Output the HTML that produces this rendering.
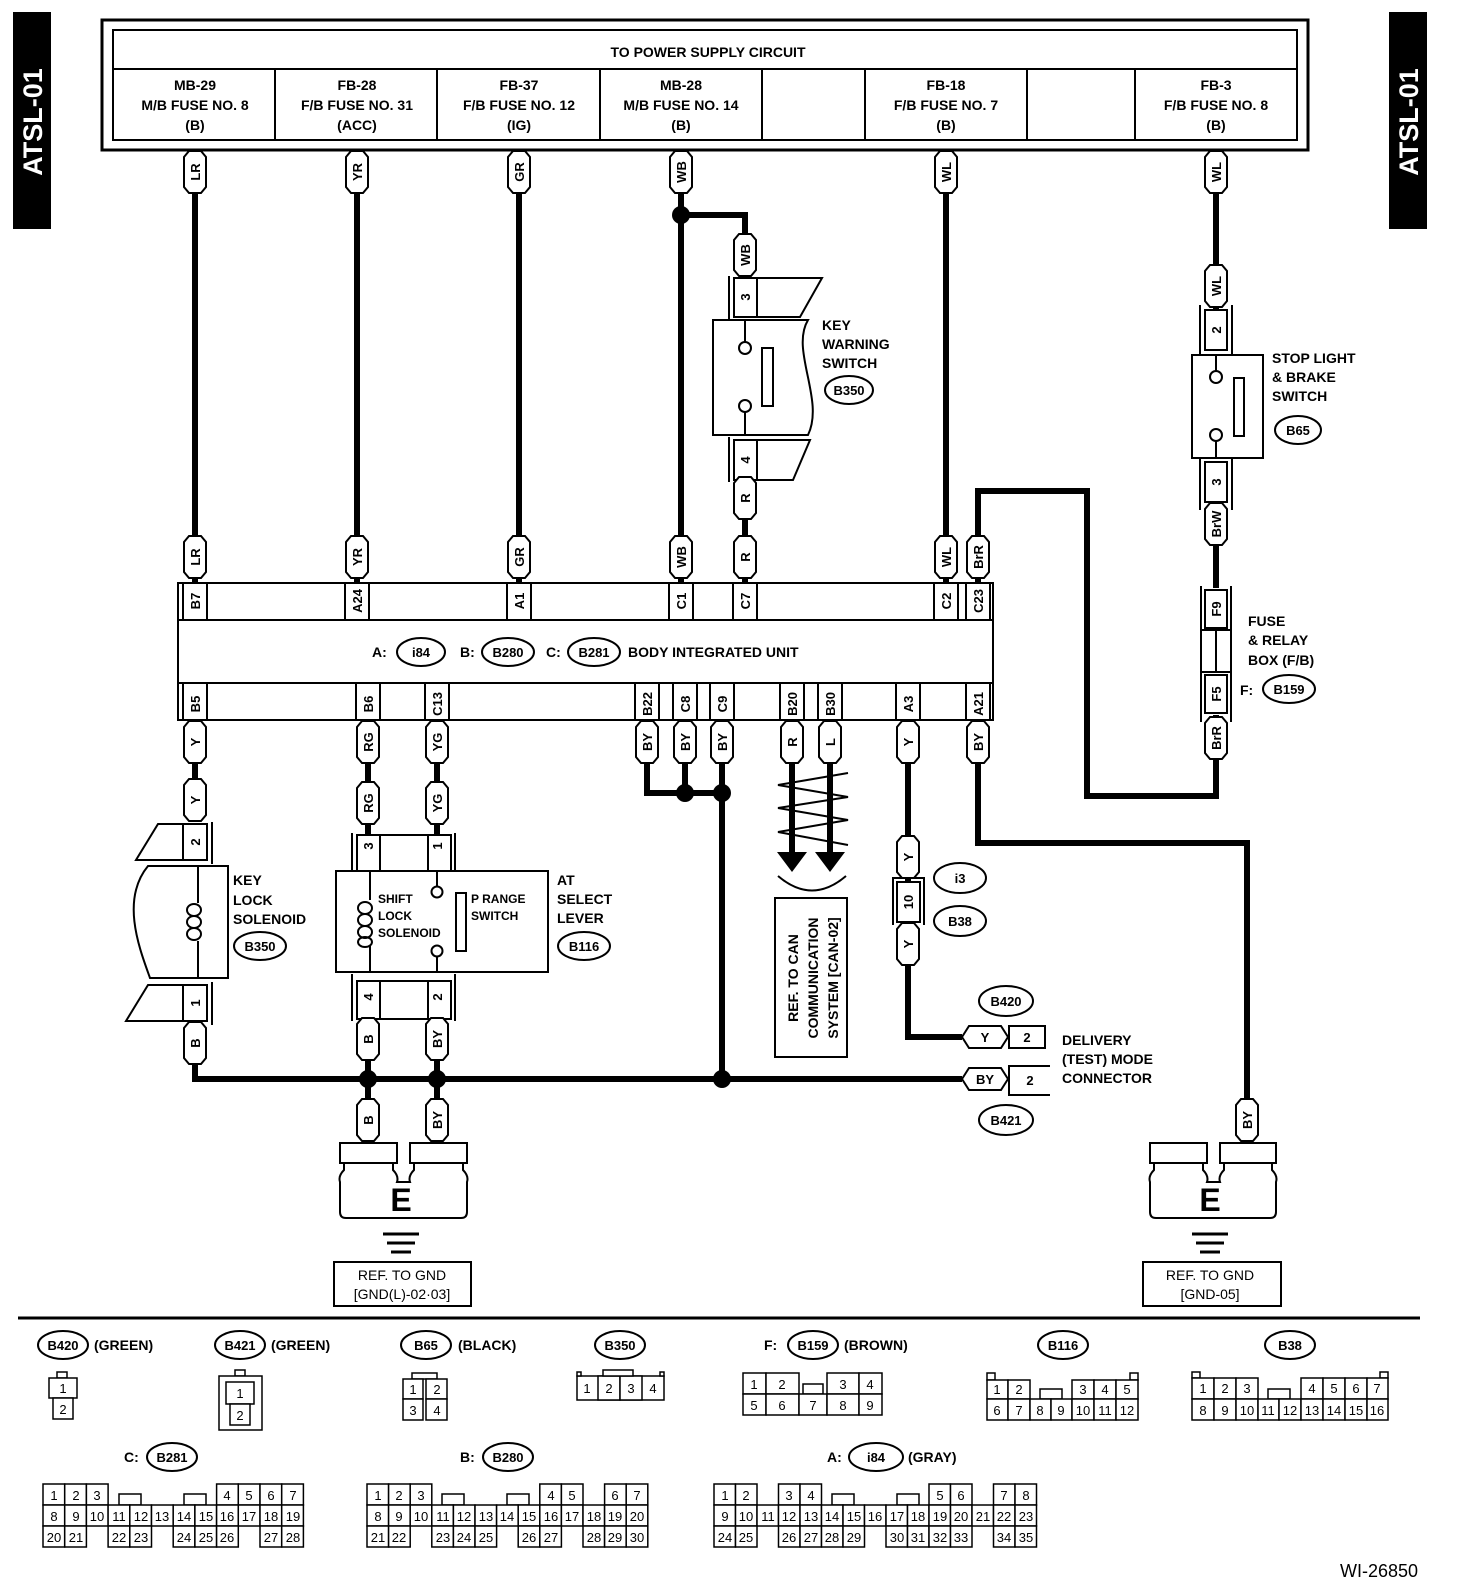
<!DOCTYPE html>
<html><head><meta charset="utf-8">
<style>
html,body{margin:0;padding:0;background:#fff}
svg{display:block}
text{font-family:"Liberation Sans",sans-serif}
.b{font-weight:bold;font-size:14px}
.l{font-weight:bold;font-size:13px}
.w{fill:none;stroke:#000;stroke-width:6}
.th{fill:none;stroke:#000;stroke-width:2}
.cl rect{fill:#fff;stroke:#000;stroke-width:1.5}
.cl text{font-size:13px;text-anchor:middle}
</style></head>
<body>
<svg width="1472" height="1582" viewBox="0 0 1472 1582" xmlns="http://www.w3.org/2000/svg">
<defs>
<polygon id="cap" points="-11,-15 -6,-21 6,-21 11,-15 11,15 6,21 -6,21 -11,15" fill="#fff" stroke="#000" stroke-width="2"/>
<polygon id="hcap" points="-23,0 -16,-11 16,-11 23,0 16,11 -16,11" fill="#fff" stroke="#000" stroke-width="2"/>
</defs>

<!-- side tabs -->
<rect x="13" y="12" width="38" height="217" fill="#000"/>
<text transform="translate(42,122) rotate(-90)" text-anchor="middle" fill="#fff" font-size="27" font-weight="bold">ATSL-01</text>
<rect x="1389" y="12" width="38" height="217" fill="#000"/>
<text transform="translate(1418,122) rotate(-90)" text-anchor="middle" fill="#fff" font-size="27" font-weight="bold">ATSL-01</text>

<!-- top box -->
<rect x="102" y="20" width="1206" height="130" fill="none" stroke="#000" stroke-width="3"/>
<rect x="113" y="30" width="1184" height="110" fill="none" stroke="#000" stroke-width="2"/>
<line x1="113" y1="69" x2="1297" y2="69" stroke="#000" stroke-width="2"/>
<g stroke="#000" stroke-width="2">
<line x1="275" y1="69" x2="275" y2="140"/><line x1="437" y1="69" x2="437" y2="140"/><line x1="600" y1="69" x2="600" y2="140"/><line x1="762" y1="69" x2="762" y2="140"/><line x1="865" y1="69" x2="865" y2="140"/><line x1="1027" y1="69" x2="1027" y2="140"/><line x1="1135" y1="69" x2="1135" y2="140"/>
</g>
<text x="708" y="57" text-anchor="middle" class="b">TO POWER SUPPLY CIRCUIT</text>
<g class="b" text-anchor="middle">
<text x="195" y="90">MB-29</text><text x="195" y="110">M/B FUSE NO. 8</text><text x="195" y="130">(B)</text>
<text x="357" y="90">FB-28</text><text x="357" y="110">F/B FUSE NO. 31</text><text x="357" y="130">(ACC)</text>
<text x="519" y="90">FB-37</text><text x="519" y="110">F/B FUSE NO. 12</text><text x="519" y="130">(IG)</text>
<text x="681" y="90">MB-28</text><text x="681" y="110">M/B FUSE NO. 14</text><text x="681" y="130">(B)</text>
<text x="946" y="90">FB-18</text><text x="946" y="110">F/B FUSE NO. 7</text><text x="946" y="130">(B)</text>
<text x="1216" y="90">FB-3</text><text x="1216" y="110">F/B FUSE NO. 8</text><text x="1216" y="130">(B)</text>
</g>

<!-- thick wires -->
<g class="w">
<line x1="195" y1="150" x2="195" y2="583"/>
<line x1="357" y1="150" x2="357" y2="583"/>
<line x1="519" y1="150" x2="519" y2="583"/>
<line x1="681" y1="150" x2="681" y2="583"/>
<line x1="946" y1="150" x2="946" y2="583"/>
<polyline points="681,215 745,215 745,278"/>
<line x1="745" y1="482" x2="745" y2="583"/>
<line x1="1216" y1="150" x2="1216" y2="310"/>
<line x1="1216" y1="502" x2="1216" y2="588"/>
<polyline points="1216,715 1216,796 1087,796 1087,491 978,491 978,583"/>
<line x1="195" y1="720" x2="195" y2="822"/>
<line x1="368" y1="720" x2="368" y2="835"/>
<line x1="437" y1="720" x2="437" y2="835"/>
<polyline points="647,720 647,793 722,793"/>
<line x1="685" y1="720" x2="685" y2="793"/>
<line x1="722" y1="720" x2="722" y2="1079"/>
<line x1="792" y1="720" x2="792" y2="856"/>
<line x1="830" y1="720" x2="830" y2="856"/>
<polyline points="908,720 908,1037 962,1037"/>
<polyline points="978,720 978,843 1247,843 1247,1143"/>
<polyline points="195,1022 195,1079 962,1079"/>
<line x1="368" y1="1020" x2="368" y2="1143"/>
<line x1="437" y1="1020" x2="437" y2="1143"/>
</g>
<g fill="#000">
<circle cx="681" cy="215" r="9"/><circle cx="685" cy="793" r="9"/><circle cx="722" cy="793" r="9"/>
<circle cx="722" cy="1079" r="9"/><circle cx="368" cy="1079" r="9"/><circle cx="437" cy="1079" r="9"/>
</g>

<!-- BIU -->
<rect x="178" y="583" width="815" height="137" fill="#fff" stroke="#000" stroke-width="2"/>
<line x1="178" y1="620" x2="993" y2="620" stroke="#000" stroke-width="2"/>
<line x1="178" y1="683" x2="993" y2="683" stroke="#000" stroke-width="2"/>
<g stroke="#000" stroke-width="2">
<line x1="183" y1="583" x2="183" y2="620"/><line x1="207" y1="583" x2="207" y2="620"/>
<line x1="345" y1="583" x2="345" y2="620"/><line x1="369" y1="583" x2="369" y2="620"/>
<line x1="507" y1="583" x2="507" y2="620"/><line x1="531" y1="583" x2="531" y2="620"/>
<line x1="669" y1="583" x2="669" y2="620"/><line x1="693" y1="583" x2="693" y2="620"/>
<line x1="733" y1="583" x2="733" y2="620"/><line x1="757" y1="583" x2="757" y2="620"/>
<line x1="934" y1="583" x2="934" y2="620"/><line x1="958" y1="583" x2="958" y2="620"/><line x1="966" y1="583" x2="966" y2="620"/><line x1="990" y1="583" x2="990" y2="620"/>
<line x1="183" y1="683" x2="183" y2="720"/><line x1="207" y1="683" x2="207" y2="720"/>
<line x1="356" y1="683" x2="356" y2="720"/><line x1="380" y1="683" x2="380" y2="720"/>
<line x1="425" y1="683" x2="425" y2="720"/><line x1="449" y1="683" x2="449" y2="720"/>
<line x1="635" y1="683" x2="635" y2="720"/><line x1="659" y1="683" x2="659" y2="720"/><line x1="673" y1="683" x2="673" y2="720"/><line x1="697" y1="683" x2="697" y2="720"/><line x1="710" y1="683" x2="710" y2="720"/><line x1="734" y1="683" x2="734" y2="720"/>
<line x1="780" y1="683" x2="780" y2="720"/><line x1="804" y1="683" x2="804" y2="720"/><line x1="818" y1="683" x2="818" y2="720"/><line x1="842" y1="683" x2="842" y2="720"/>
<line x1="896" y1="683" x2="896" y2="720"/><line x1="920" y1="683" x2="920" y2="720"/><line x1="966" y1="683" x2="966" y2="720"/><line x1="990" y1="683" x2="990" y2="720"/>
</g>
<g class="l" text-anchor="middle">
<text transform="translate(195,601) rotate(-90)" y="5">B7</text>
<text transform="translate(357,601) rotate(-90)" y="5">A24</text>
<text transform="translate(519,601) rotate(-90)" y="5">A1</text>
<text transform="translate(681,601) rotate(-90)" y="5">C1</text>
<text transform="translate(745,601) rotate(-90)" y="5">C7</text>
<text transform="translate(946,601) rotate(-90)" y="5">C2</text>
<text transform="translate(978,601) rotate(-90)" y="5">C23</text>
<text transform="translate(195,704) rotate(-90)" y="5">B5</text>
<text transform="translate(368,704) rotate(-90)" y="5">B6</text>
<text transform="translate(437,704) rotate(-90)" y="5">C13</text>
<text transform="translate(647,704) rotate(-90)" y="5">B22</text>
<text transform="translate(685,704) rotate(-90)" y="5">C8</text>
<text transform="translate(722,704) rotate(-90)" y="5">C9</text>
<text transform="translate(792,704) rotate(-90)" y="5">B20</text>
<text transform="translate(830,704) rotate(-90)" y="5">B30</text>
<text transform="translate(908,704) rotate(-90)" y="5">A3</text>
<text transform="translate(978,704) rotate(-90)" y="5">A21</text>
</g>
<text x="372" y="657" class="b">A:</text>
<ellipse cx="421" cy="652" rx="24" ry="14" fill="#fff" stroke="#000" stroke-width="2"/><text x="421" y="657" text-anchor="middle" class="l">i84</text>
<text x="460" y="657" class="b">B:</text>
<ellipse cx="508" cy="652" rx="26" ry="14" fill="#fff" stroke="#000" stroke-width="2"/><text x="508" y="657" text-anchor="middle" class="l">B280</text>
<text x="546" y="657" class="b">C:</text>
<ellipse cx="594" cy="652" rx="26" ry="14" fill="#fff" stroke="#000" stroke-width="2"/><text x="594" y="657" text-anchor="middle" class="l">B281</text>
<text x="628" y="657" class="b">BODY INTEGRATED UNIT</text>

<!-- Key warning switch -->
<g class="th">
<rect x="734" y="278" width="23" height="39" fill="#fff"/>
<polyline points="757,278 822,278 800,317 757,317"/>
<line x1="729" y1="276" x2="729" y2="320"/>
<path d="M713,320 L808,320 C790,350 825,400 808,435 L713,435 Z" fill="#fff"/>
<line x1="745" y1="320" x2="745" y2="343"/><circle cx="745" cy="348" r="6" fill="#fff"/>
<line x1="745" y1="435" x2="745" y2="411"/><circle cx="745" cy="406" r="6" fill="#fff"/>
<rect x="762" y="348" width="11" height="58"/>
<rect x="734" y="440" width="23" height="40" fill="#fff"/>
<polyline points="757,440 810,440 793,480 757,480"/>
<line x1="729" y1="437" x2="729" y2="482"/>
</g>
<text transform="translate(745,297) rotate(-90)" y="5" text-anchor="middle" class="l">3</text>
<text transform="translate(745,460) rotate(-90)" y="5" text-anchor="middle" class="l">4</text>
<g class="b"><text x="822" y="330">KEY</text><text x="822" y="349">WARNING</text><text x="822" y="368">SWITCH</text></g>
<ellipse cx="849" cy="390" rx="24" ry="14" fill="#fff" stroke="#000" stroke-width="2"/><text x="849" y="395" text-anchor="middle" class="l">B350</text>

<!-- Stop light switch -->
<g class="th">
<rect x="1205" y="310" width="22" height="40" fill="#fff"/>
<line x1="1200" y1="305" x2="1200" y2="355"/><line x1="1232" y1="305" x2="1232" y2="355"/>
<rect x="1192" y="355" width="71" height="103" fill="#fff"/>
<line x1="1216" y1="355" x2="1216" y2="371"/><circle cx="1216" cy="377" r="6" fill="#fff"/>
<line x1="1216" y1="458" x2="1216" y2="441"/><circle cx="1216" cy="435" r="6" fill="#fff"/>
<rect x="1234" y="378" width="10" height="58"/>
<rect x="1205" y="462" width="22" height="40" fill="#fff"/>
<line x1="1200" y1="458" x2="1200" y2="510"/><line x1="1232" y1="458" x2="1232" y2="510"/>
<rect x="1205" y="590" width="22" height="38" fill="#fff"/>
<rect x="1201" y="630" width="30" height="42" fill="#fff"/>
<line x1="1216" y1="630" x2="1216" y2="672"/>
<rect x="1205" y="675" width="22" height="38" fill="#fff"/>
<line x1="1201" y1="586" x2="1201" y2="722"/><line x1="1231" y1="586" x2="1231" y2="722"/>
</g>
<g class="l" text-anchor="middle">
<text transform="translate(1216,330) rotate(-90)" y="5">2</text>
<text transform="translate(1216,482) rotate(-90)" y="5">3</text>
<text transform="translate(1216,609) rotate(-90)" y="5">F9</text>
<text transform="translate(1216,694) rotate(-90)" y="5">F5</text>
</g>
<g class="b"><text x="1272" y="363">STOP LIGHT</text><text x="1272" y="382">&amp; BRAKE</text><text x="1272" y="401">SWITCH</text>
<text x="1248" y="626">FUSE</text><text x="1248" y="645">&amp; RELAY</text><text x="1248" y="665">BOX (F/B)</text>
<text x="1240" y="695">F:</text></g>
<ellipse cx="1298" cy="430" rx="23" ry="14" fill="#fff" stroke="#000" stroke-width="2"/><text x="1298" y="435" text-anchor="middle" class="l">B65</text>
<ellipse cx="1289" cy="689" rx="26" ry="14" fill="#fff" stroke="#000" stroke-width="2"/><text x="1289" y="694" text-anchor="middle" class="l">B159</text>

<!-- Key lock solenoid -->
<g class="th">
<rect x="183" y="824" width="24" height="36" fill="#fff"/>
<polyline points="183,824 158,824 136,860 183,860"/>
<line x1="212" y1="822" x2="212" y2="864"/>
<path d="M228,866 L148,866 C120,900 140,950 150,978 L228,978 Z" fill="#fff"/>
<line x1="198" y1="866" x2="198" y2="903"/><line x1="198" y1="941" x2="198" y2="978"/>
<ellipse cx="194" cy="910" rx="7" ry="6"/><ellipse cx="194" cy="922" rx="7" ry="6"/><ellipse cx="194" cy="934" rx="7" ry="6"/>
<rect x="183" y="985" width="24" height="36" fill="#fff"/>
<polyline points="183,985 148,985 126,1021 183,1021"/>
<line x1="212" y1="982" x2="212" y2="1025"/>
</g>
<text transform="translate(195,842) rotate(-90)" y="5" text-anchor="middle" class="l">2</text>
<text transform="translate(195,1003) rotate(-90)" y="5" text-anchor="middle" class="l">1</text>
<g class="b"><text x="233" y="885">KEY</text><text x="233" y="905">LOCK</text><text x="233" y="924">SOLENOID</text></g>
<ellipse cx="260" cy="946" rx="26" ry="14" fill="#fff" stroke="#000" stroke-width="2"/><text x="260" y="951" text-anchor="middle" class="l">B350</text>

<!-- AT select lever -->
<g class="th">
<rect x="357" y="835" width="94" height="38" fill="#fff"/>
<line x1="380" y1="835" x2="380" y2="873"/><line x1="428" y1="835" x2="428" y2="873"/>
<line x1="352" y1="833" x2="352" y2="878"/><line x1="455" y1="833" x2="455" y2="878"/>
<rect x="336" y="871" width="212" height="101" fill="#fff"/>
<line x1="370" y1="871" x2="370" y2="900"/><line x1="370" y1="946" x2="370" y2="972"/>
<ellipse cx="365" cy="908" rx="7" ry="6"/><ellipse cx="365" cy="920" rx="7" ry="6"/><ellipse cx="365" cy="932" rx="7" ry="6"/><ellipse cx="365" cy="942" rx="7" ry="5"/>
<line x1="437" y1="871" x2="437" y2="886"/><circle cx="437" cy="892" r="5.5" fill="#fff"/>
<line x1="437" y1="972" x2="437" y2="957"/><circle cx="437" cy="951" r="5.5" fill="#fff"/>
<rect x="456" y="893" width="10" height="58"/>
<rect x="357" y="981" width="94" height="38" fill="#fff"/>
<line x1="380" y1="981" x2="380" y2="1019"/><line x1="428" y1="981" x2="428" y2="1019"/>
<line x1="352" y1="974" x2="352" y2="1021"/><line x1="455" y1="974" x2="455" y2="1021"/>
</g>
<g class="l" text-anchor="middle">
<text transform="translate(368,846) rotate(-90)" y="5">3</text>
<text transform="translate(437,846) rotate(-90)" y="5">1</text>
<text transform="translate(368,997) rotate(-90)" y="5">4</text>
<text transform="translate(437,997) rotate(-90)" y="5">2</text>
</g>
<g font-weight="bold" font-size="12"><text x="378" y="903">SHIFT</text><text x="378" y="920">LOCK</text><text x="378" y="937">SOLENOID</text>
<text x="471" y="903">P RANGE</text><text x="471" y="920">SWITCH</text></g>
<g class="b"><text x="557" y="885">AT</text><text x="557" y="904">SELECT</text><text x="557" y="923">LEVER</text></g>
<ellipse cx="584" cy="946" rx="26" ry="14" fill="#fff" stroke="#000" stroke-width="2"/><text x="584" y="951" text-anchor="middle" class="l">B116</text>

<!-- CAN -->
<g class="th" stroke-width="1.5">
<polyline points="848,773 778,785 848,797 778,808 848,820 778,832 848,845"/>
</g>
<polygon points="777,852 807,852 792,872" fill="#000"/>
<polygon points="815,852 845,852 830,872" fill="#000"/>
<path d="M778,876 Q812,905 846,876" class="th"/>
<rect x="775" y="898" width="72" height="159" fill="#fff" stroke="#000" stroke-width="2"/>
<g class="b" text-anchor="middle">
<text transform="translate(793,978) rotate(-90)" y="5">REF. TO CAN</text>
<text transform="translate(813,978) rotate(-90)" y="5">COMMUNICATION</text>
<text transform="translate(833,978) rotate(-90)" y="5">SYSTEM [CAN-02]</text>
</g>

<!-- B38 joint -->
<g class="th"><rect x="897" y="882" width="23" height="40" fill="#fff"/><polyline points="893,925 893,878 924,878 924,925"/></g>
<text transform="translate(908,902) rotate(-90)" y="5" text-anchor="middle" class="l">10</text>
<ellipse cx="960" cy="878" rx="26" ry="15" fill="#fff" stroke="#000" stroke-width="2"/><text x="960" y="883" text-anchor="middle" class="l">i3</text>
<ellipse cx="960" cy="921" rx="26" ry="15" fill="#fff" stroke="#000" stroke-width="2"/><text x="960" y="926" text-anchor="middle" class="l">B38</text>

<!-- Delivery connector -->
<ellipse cx="1006" cy="1001" rx="27" ry="15" fill="#fff" stroke="#000" stroke-width="2"/><text x="1006" y="1006" text-anchor="middle" class="l">B420</text>
<rect x="1009" y="1026" width="36" height="22" fill="#fff" stroke="#000" stroke-width="2"/>
<text x="1027" y="1042" text-anchor="middle" class="l">2</text>
<polyline points="1050,1066 1009,1066 1009,1095 1050,1095" class="th"/>
<text x="1030" y="1085" text-anchor="middle" class="l">2</text>
<ellipse cx="1006" cy="1120" rx="27" ry="15" fill="#fff" stroke="#000" stroke-width="2"/><text x="1006" y="1125" text-anchor="middle" class="l">B421</text>
<g class="b"><text x="1062" y="1045">DELIVERY</text><text x="1062" y="1064">(TEST) MODE</text><text x="1062" y="1083">CONNECTOR</text></g>
<g transform="translate(985,1037)"><use href="#hcap"/><text x="0" y="5" text-anchor="middle" class="l">Y</text></g>
<g transform="translate(985,1079)"><use href="#hcap"/><text x="0" y="5" text-anchor="middle" class="l">BY</text></g>

<!-- wire label capsules -->
<g class="l" text-anchor="middle">
<g transform="translate(195,172)"><use href="#cap"/><text transform="rotate(-90)" y="5">LR</text></g>
<g transform="translate(357,172)"><use href="#cap"/><text transform="rotate(-90)" y="5">YR</text></g>
<g transform="translate(519,172)"><use href="#cap"/><text transform="rotate(-90)" y="5">GR</text></g>
<g transform="translate(681,172)"><use href="#cap"/><text transform="rotate(-90)" y="5">WB</text></g>
<g transform="translate(946,172)"><use href="#cap"/><text transform="rotate(-90)" y="5">WL</text></g>
<g transform="translate(1216,172)"><use href="#cap"/><text transform="rotate(-90)" y="5">WL</text></g>
<g transform="translate(745,255)"><use href="#cap"/><text transform="rotate(-90)" y="5">WB</text></g>
<g transform="translate(745,498)"><use href="#cap"/><text transform="rotate(-90)" y="5">R</text></g>
<g transform="translate(1216,286)"><use href="#cap"/><text transform="rotate(-90)" y="5">WL</text></g>
<g transform="translate(1216,524)"><use href="#cap"/><text transform="rotate(-90)" y="5">BrW</text></g>
<g transform="translate(1216,738)"><use href="#cap"/><text transform="rotate(-90)" y="5">BrR</text></g>
<g transform="translate(195,557)"><use href="#cap"/><text transform="rotate(-90)" y="5">LR</text></g>
<g transform="translate(357,557)"><use href="#cap"/><text transform="rotate(-90)" y="5">YR</text></g>
<g transform="translate(519,557)"><use href="#cap"/><text transform="rotate(-90)" y="5">GR</text></g>
<g transform="translate(681,557)"><use href="#cap"/><text transform="rotate(-90)" y="5">WB</text></g>
<g transform="translate(745,557)"><use href="#cap"/><text transform="rotate(-90)" y="5">R</text></g>
<g transform="translate(946,557)"><use href="#cap"/><text transform="rotate(-90)" y="5">WL</text></g>
<g transform="translate(978,557)"><use href="#cap"/><text transform="rotate(-90)" y="5">BrR</text></g>
<g transform="translate(195,742)"><use href="#cap"/><text transform="rotate(-90)" y="5">Y</text></g>
<g transform="translate(368,742)"><use href="#cap"/><text transform="rotate(-90)" y="5">RG</text></g>
<g transform="translate(437,742)"><use href="#cap"/><text transform="rotate(-90)" y="5">YG</text></g>
<g transform="translate(647,742)"><use href="#cap"/><text transform="rotate(-90)" y="5">BY</text></g>
<g transform="translate(685,742)"><use href="#cap"/><text transform="rotate(-90)" y="5">BY</text></g>
<g transform="translate(722,742)"><use href="#cap"/><text transform="rotate(-90)" y="5">BY</text></g>
<g transform="translate(792,742)"><use href="#cap"/><text transform="rotate(-90)" y="5">R</text></g>
<g transform="translate(830,742)"><use href="#cap"/><text transform="rotate(-90)" y="5">L</text></g>
<g transform="translate(908,742)"><use href="#cap"/><text transform="rotate(-90)" y="5">Y</text></g>
<g transform="translate(978,742)"><use href="#cap"/><text transform="rotate(-90)" y="5">BY</text></g>
<g transform="translate(195,800)"><use href="#cap"/><text transform="rotate(-90)" y="5">Y</text></g>
<g transform="translate(368,803)"><use href="#cap"/><text transform="rotate(-90)" y="5">RG</text></g>
<g transform="translate(437,803)"><use href="#cap"/><text transform="rotate(-90)" y="5">YG</text></g>
<g transform="translate(908,857)"><use href="#cap"/><text transform="rotate(-90)" y="5">Y</text></g>
<g transform="translate(908,944)"><use href="#cap"/><text transform="rotate(-90)" y="5">Y</text></g>
<g transform="translate(195,1043)"><use href="#cap"/><text transform="rotate(-90)" y="5">B</text></g>
<g transform="translate(368,1039)"><use href="#cap"/><text transform="rotate(-90)" y="5">B</text></g>
<g transform="translate(437,1039)"><use href="#cap"/><text transform="rotate(-90)" y="5">BY</text></g>
<g transform="translate(368,1120)"><use href="#cap"/><text transform="rotate(-90)" y="5">B</text></g>
<g transform="translate(437,1120)"><use href="#cap"/><text transform="rotate(-90)" y="5">BY</text></g>
<g transform="translate(1247,1120)"><use href="#cap"/><text transform="rotate(-90)" y="5">BY</text></g>
</g>

<!-- Ground E -->
<g class="th" fill="#fff">
<rect x="340" y="1143" width="57" height="20"/><rect x="410" y="1143" width="57" height="20"/>
<path d="M344,1163 L344,1170 Q338,1176 340,1182 L340,1212 Q340,1218 346,1218 L461,1218 Q467,1218 467,1212 L467,1182 Q469,1176 463,1170 L463,1163 M393,1163 L393,1170 Q399,1176 397,1182 L410,1182 Q408,1176 414,1170 L414,1163"/>
<rect x="1150" y="1143" width="57" height="20"/><rect x="1220" y="1143" width="56" height="20"/>
<path d="M1154,1163 L1154,1170 Q1148,1176 1150,1182 L1150,1212 Q1150,1218 1156,1218 L1270,1218 Q1276,1218 1276,1212 L1276,1182 Q1278,1176 1272,1170 L1272,1163 M1203,1163 L1203,1170 Q1209,1176 1207,1182 L1220,1182 Q1218,1176 1224,1170 L1224,1163"/>
</g>
<text x="401" y="1211" text-anchor="middle" font-size="32" font-weight="bold">E</text>
<text x="1210" y="1211" text-anchor="middle" font-size="32" font-weight="bold">E</text>
<g stroke="#000" stroke-width="3">
<line x1="383" y1="1234" x2="419" y2="1234"/><line x1="387" y1="1243" x2="415" y2="1243"/><line x1="391" y1="1252" x2="411" y2="1252"/>
<line x1="1192" y1="1234" x2="1228" y2="1234"/><line x1="1196" y1="1243" x2="1224" y2="1243"/><line x1="1200" y1="1252" x2="1220" y2="1252"/>
</g>
<rect x="334" y="1262" width="137" height="44" fill="#fff" stroke="#000" stroke-width="2"/>
<text x="402" y="1280" text-anchor="middle" font-size="14">REF. TO GND</text><text x="402" y="1299" text-anchor="middle" font-size="14">[GND(L)-02·03]</text>
<rect x="1143" y="1262" width="138" height="44" fill="#fff" stroke="#000" stroke-width="2"/>
<text x="1210" y="1280" text-anchor="middle" font-size="14">REF. TO GND</text><text x="1210" y="1299" text-anchor="middle" font-size="14">[GND-05]</text>

<line x1="18" y1="1318" x2="1420" y2="1318" stroke="#000" stroke-width="3"/>

<!-- connector legends -->
<g class="l" text-anchor="middle">
<ellipse cx="63" cy="1345" rx="25" ry="14" fill="#fff" stroke="#000" stroke-width="2"/><text x="63" y="1350">B420</text>
<ellipse cx="240" cy="1345" rx="25" ry="14" fill="#fff" stroke="#000" stroke-width="2"/><text x="240" y="1350">B421</text>
<ellipse cx="426" cy="1345" rx="25" ry="14" fill="#fff" stroke="#000" stroke-width="2"/><text x="426" y="1350">B65</text>
<ellipse cx="620" cy="1345" rx="25" ry="14" fill="#fff" stroke="#000" stroke-width="2"/><text x="620" y="1350">B350</text>
<ellipse cx="813" cy="1345" rx="25" ry="14" fill="#fff" stroke="#000" stroke-width="2"/><text x="813" y="1350">B159</text>
<ellipse cx="1063" cy="1345" rx="25" ry="14" fill="#fff" stroke="#000" stroke-width="2"/><text x="1063" y="1350">B116</text>
<ellipse cx="1290" cy="1345" rx="25" ry="14" fill="#fff" stroke="#000" stroke-width="2"/><text x="1290" y="1350">B38</text>
<ellipse cx="172" cy="1457" rx="25" ry="14" fill="#fff" stroke="#000" stroke-width="2"/><text x="172" y="1462">B281</text>
<ellipse cx="508" cy="1457" rx="25" ry="14" fill="#fff" stroke="#000" stroke-width="2"/><text x="508" y="1462">B280</text>
<ellipse cx="876" cy="1457" rx="27" ry="14" fill="#fff" stroke="#000" stroke-width="2"/><text x="876" y="1462">i84</text>
</g>
<g class="b">
<text x="94" y="1350">(GREEN)</text><text x="271" y="1350">(GREEN)</text><text x="458" y="1350">(BLACK)</text>
<text x="764" y="1350">F:</text><text x="844" y="1350">(BROWN)</text>
<text x="124" y="1462">C:</text><text x="460" y="1462">B:</text><text x="827" y="1462">A:</text><text x="908" y="1462">(GRAY)</text>
</g>

<g class="cl">
<rect x="57" y="1372" width="10" height="6"/><rect x="49" y="1378" width="28" height="20"/><rect x="53" y="1398" width="20" height="21"/>
<text x="63" y="1393">1</text><text x="63" y="1414">2</text>
<rect x="235" y="1370" width="10" height="6"/><rect x="219" y="1376" width="43" height="54"/><rect x="226" y="1382" width="28" height="22"/><rect x="230" y="1404" width="20" height="21"/>
<text x="240" y="1398">1</text><text x="240" y="1420">2</text>
<rect x="412" y="1373" width="25" height="6"/>
<rect x="403" y="1379" width="20" height="20"/><rect x="426" y="1379" width="21" height="20"/><rect x="403" y="1399" width="20" height="21"/><rect x="426" y="1399" width="21" height="21"/>
<text x="413" y="1394">1</text><text x="437" y="1394">2</text><text x="413" y="1415">3</text><text x="437" y="1415">4</text>
<rect x="577" y="1376" width="87" height="24"/><rect x="598" y="1376" width="22" height="24"/><rect x="620" y="1376" width="22" height="24"/>
<rect x="603" y="1370" width="30" height="6"/><rect x="577" y="1372" width="4" height="4"/><rect x="660" y="1372" width="4" height="4"/>
<text x="587" y="1393">1</text><text x="609" y="1393">2</text><text x="631" y="1393">3</text><text x="653" y="1393">4</text>
<rect x="743" y="1373" width="23" height="21"/><rect x="766" y="1373" width="33" height="21"/><rect x="827" y="1373" width="32" height="21"/><rect x="859" y="1373" width="23" height="21"/>
<rect x="803" y="1384" width="20" height="10"/>
<rect x="743" y="1394" width="23" height="21"/><rect x="766" y="1394" width="33" height="21"/><rect x="799" y="1394" width="28" height="21"/><rect x="827" y="1394" width="32" height="21"/><rect x="859" y="1394" width="23" height="21"/>
<text x="754" y="1389">1</text><text x="782" y="1389">2</text><text x="843" y="1389">3</text><text x="870" y="1389">4</text>
<text x="754" y="1410">5</text><text x="782" y="1410">6</text><text x="813" y="1410">7</text><text x="843" y="1410">8</text><text x="870" y="1410">9</text>
<rect x="987" y="1373" width="8" height="7"/><rect x="1130" y="1373" width="8" height="7"/>
<rect x="987" y="1380" width="21" height="19"/><rect x="1008" y="1380" width="22" height="19"/><rect x="1072" y="1380" width="22" height="19"/><rect x="1094" y="1380" width="22" height="19"/><rect x="1116" y="1380" width="22" height="19"/>
<rect x="1040" y="1389" width="22" height="10"/>
<rect x="987" y="1399" width="21" height="21"/><rect x="1008" y="1399" width="22" height="21"/><rect x="1030" y="1399" width="21" height="21"/><rect x="1051" y="1399" width="21" height="21"/><rect x="1072" y="1399" width="22" height="21"/><rect x="1094" y="1399" width="22" height="21"/><rect x="1116" y="1399" width="22" height="21"/>
<text x="997" y="1394">1</text><text x="1019" y="1394">2</text><text x="1083" y="1394">3</text><text x="1105" y="1394">4</text><text x="1127" y="1394">5</text>
<text x="997" y="1415">6</text><text x="1019" y="1415">7</text><text x="1040" y="1415">8</text><text x="1061" y="1415">9</text><text x="1083" y="1415">10</text><text x="1105" y="1415">11</text><text x="1127" y="1415">12</text>
<rect x="1192" y="1372" width="8" height="6"/><rect x="1380" y="1372" width="8" height="6"/>
<rect x="1192" y="1378" width="22" height="21"/><rect x="1214" y="1378" width="22" height="21"/><rect x="1236" y="1378" width="22" height="21"/>
<rect x="1301" y="1378" width="22" height="21"/><rect x="1323" y="1378" width="22" height="21"/><rect x="1345" y="1378" width="22" height="21"/><rect x="1367" y="1378" width="21" height="21"/>
<rect x="1268" y="1389" width="22" height="10"/>
<rect x="1192" y="1399" width="22" height="21"/><rect x="1214" y="1399" width="22" height="21"/><rect x="1236" y="1399" width="22" height="21"/><rect x="1258" y="1399" width="21" height="21"/><rect x="1279" y="1399" width="22" height="21"/><rect x="1301" y="1399" width="22" height="21"/><rect x="1323" y="1399" width="22" height="21"/><rect x="1345" y="1399" width="22" height="21"/><rect x="1367" y="1399" width="21" height="21"/>
<text x="1203" y="1393">1</text><text x="1225" y="1393">2</text><text x="1247" y="1393">3</text><text x="1312" y="1393">4</text><text x="1334" y="1393">5</text><text x="1356" y="1393">6</text><text x="1377" y="1393">7</text>
<text x="1203" y="1415">8</text><text x="1225" y="1415">9</text><text x="1247" y="1415">10</text><text x="1268" y="1415">11</text><text x="1290" y="1415">12</text><text x="1312" y="1415">13</text><text x="1334" y="1415">14</text><text x="1356" y="1415">15</text><text x="1377" y="1415">16</text>

<rect x="43" y="1484" width="21.7" height="21"/><rect x="64.7" y="1484" width="21.7" height="21"/><rect x="86.4" y="1484" width="21.7" height="21"/>
<rect x="216.6" y="1484" width="21.7" height="21"/><rect x="238.3" y="1484" width="21.7" height="21"/><rect x="260" y="1484" width="21.7" height="21"/><rect x="281.7" y="1484" width="21.7" height="21"/>
<rect x="119" y="1494" width="22" height="11"/><rect x="184" y="1494" width="22" height="11"/>
<rect x="43" y="1505" width="21.7" height="21"/><rect x="64.7" y="1505" width="21.7" height="21"/><rect x="86.4" y="1505" width="21.7" height="21"/><rect x="108.1" y="1505" width="21.7" height="21"/><rect x="129.8" y="1505" width="21.7" height="21"/><rect x="151.5" y="1505" width="21.7" height="21"/><rect x="173.2" y="1505" width="21.7" height="21"/><rect x="194.9" y="1505" width="21.7" height="21"/><rect x="216.6" y="1505" width="21.7" height="21"/><rect x="238.3" y="1505" width="21.7" height="21"/><rect x="260" y="1505" width="21.7" height="21"/><rect x="281.7" y="1505" width="21.7" height="21"/>
<rect x="43" y="1526" width="21.7" height="21"/><rect x="64.7" y="1526" width="21.7" height="21"/><rect x="108.1" y="1526" width="21.7" height="21"/><rect x="129.8" y="1526" width="21.7" height="21"/><rect x="173.2" y="1526" width="21.7" height="21"/><rect x="194.9" y="1526" width="21.7" height="21"/><rect x="216.6" y="1526" width="21.7" height="21"/><rect x="260" y="1526" width="21.7" height="21"/><rect x="281.7" y="1526" width="21.7" height="21"/>
<text x="54" y="1500">1</text><text x="76" y="1500">2</text><text x="97" y="1500">3</text><text x="227" y="1500">4</text><text x="249" y="1500">5</text><text x="271" y="1500">6</text><text x="293" y="1500">7</text>
<text x="54" y="1521">8</text><text x="76" y="1521">9</text><text x="97" y="1521">10</text><text x="119" y="1521">11</text><text x="141" y="1521">12</text><text x="162" y="1521">13</text><text x="184" y="1521">14</text><text x="206" y="1521">15</text><text x="227" y="1521">16</text><text x="249" y="1521">17</text><text x="271" y="1521">18</text><text x="293" y="1521">19</text>
<text x="54" y="1542">20</text><text x="76" y="1542">21</text><text x="119" y="1542">22</text><text x="141" y="1542">23</text><text x="184" y="1542">24</text><text x="206" y="1542">25</text><text x="227" y="1542">26</text><text x="271" y="1542">27</text><text x="293" y="1542">28</text>

<rect x="367" y="1484" width="21.6" height="21"/><rect x="388.6" y="1484" width="21.6" height="21"/><rect x="410.2" y="1484" width="21.6" height="21"/>
<rect x="539.8" y="1484" width="21.6" height="21"/><rect x="561.4" y="1484" width="21.6" height="21"/><rect x="604.6" y="1484" width="21.6" height="21"/><rect x="626.2" y="1484" width="21.6" height="21"/>
<rect x="442" y="1494" width="22" height="11"/><rect x="507" y="1494" width="22" height="11"/>
<rect x="367" y="1505" width="21.6" height="21"/><rect x="388.6" y="1505" width="21.6" height="21"/><rect x="410.2" y="1505" width="21.6" height="21"/><rect x="431.8" y="1505" width="21.6" height="21"/><rect x="453.4" y="1505" width="21.6" height="21"/><rect x="475" y="1505" width="21.6" height="21"/><rect x="496.6" y="1505" width="21.6" height="21"/><rect x="518.2" y="1505" width="21.6" height="21"/><rect x="539.8" y="1505" width="21.6" height="21"/><rect x="561.4" y="1505" width="21.6" height="21"/><rect x="583" y="1505" width="21.6" height="21"/><rect x="604.6" y="1505" width="21.6" height="21"/><rect x="626.2" y="1505" width="21.6" height="21"/>
<rect x="367" y="1526" width="21.6" height="21"/><rect x="388.6" y="1526" width="21.6" height="21"/><rect x="431.8" y="1526" width="21.6" height="21"/><rect x="453.4" y="1526" width="21.6" height="21"/><rect x="475" y="1526" width="21.6" height="21"/><rect x="518.2" y="1526" width="21.6" height="21"/><rect x="539.8" y="1526" width="21.6" height="21"/><rect x="583" y="1526" width="21.6" height="21"/><rect x="604.6" y="1526" width="21.6" height="21"/><rect x="626.2" y="1526" width="21.6" height="21"/>
<text x="378" y="1500">1</text><text x="399" y="1500">2</text><text x="421" y="1500">3</text><text x="551" y="1500">4</text><text x="572" y="1500">5</text><text x="615" y="1500">6</text><text x="637" y="1500">7</text>
<text x="378" y="1521">8</text><text x="399" y="1521">9</text><text x="421" y="1521">10</text><text x="443" y="1521">11</text><text x="464" y="1521">12</text><text x="486" y="1521">13</text><text x="507" y="1521">14</text><text x="529" y="1521">15</text><text x="551" y="1521">16</text><text x="572" y="1521">17</text><text x="594" y="1521">18</text><text x="615" y="1521">19</text><text x="637" y="1521">20</text>
<text x="378" y="1542">21</text><text x="399" y="1542">22</text><text x="443" y="1542">23</text><text x="464" y="1542">24</text><text x="486" y="1542">25</text><text x="529" y="1542">26</text><text x="551" y="1542">27</text><text x="594" y="1542">28</text><text x="615" y="1542">29</text><text x="637" y="1542">30</text>

<rect x="714" y="1484" width="21.5" height="21"/><rect x="735.5" y="1484" width="21.5" height="21"/><rect x="778.5" y="1484" width="21.5" height="21"/><rect x="800" y="1484" width="21.5" height="21"/>
<rect x="929" y="1484" width="21.5" height="21"/><rect x="950.5" y="1484" width="21.5" height="21"/><rect x="993.5" y="1484" width="21.5" height="21"/><rect x="1015" y="1484" width="21.5" height="21"/>
<rect x="832" y="1494" width="22" height="11"/><rect x="897" y="1494" width="22" height="11"/>
<rect x="714" y="1505" width="21.5" height="21"/><rect x="735.5" y="1505" width="21.5" height="21"/><rect x="757" y="1505" width="21.5" height="21"/><rect x="778.5" y="1505" width="21.5" height="21"/><rect x="800" y="1505" width="21.5" height="21"/><rect x="821.5" y="1505" width="21.5" height="21"/><rect x="843" y="1505" width="21.5" height="21"/><rect x="864.5" y="1505" width="21.5" height="21"/><rect x="886" y="1505" width="21.5" height="21"/><rect x="907.5" y="1505" width="21.5" height="21"/><rect x="929" y="1505" width="21.5" height="21"/><rect x="950.5" y="1505" width="21.5" height="21"/><rect x="972" y="1505" width="21.5" height="21"/><rect x="993.5" y="1505" width="21.5" height="21"/><rect x="1015" y="1505" width="21.5" height="21"/>
<rect x="714" y="1526" width="21.5" height="21"/><rect x="735.5" y="1526" width="21.5" height="21"/><rect x="778.5" y="1526" width="21.5" height="21"/><rect x="800" y="1526" width="21.5" height="21"/><rect x="821.5" y="1526" width="21.5" height="21"/><rect x="843" y="1526" width="21.5" height="21"/><rect x="886" y="1526" width="21.5" height="21"/><rect x="907.5" y="1526" width="21.5" height="21"/><rect x="929" y="1526" width="21.5" height="21"/><rect x="950.5" y="1526" width="21.5" height="21"/><rect x="993.5" y="1526" width="21.5" height="21"/><rect x="1015" y="1526" width="21.5" height="21"/>
<text x="725" y="1500">1</text><text x="746" y="1500">2</text><text x="789" y="1500">3</text><text x="811" y="1500">4</text><text x="940" y="1500">5</text><text x="961" y="1500">6</text><text x="1004" y="1500">7</text><text x="1026" y="1500">8</text>
<text x="725" y="1521">9</text><text x="746" y="1521">10</text><text x="768" y="1521">11</text><text x="789" y="1521">12</text><text x="811" y="1521">13</text><text x="832" y="1521">14</text><text x="854" y="1521">15</text><text x="875" y="1521">16</text><text x="897" y="1521">17</text><text x="918" y="1521">18</text><text x="940" y="1521">19</text><text x="961" y="1521">20</text><text x="983" y="1521">21</text><text x="1004" y="1521">22</text><text x="1026" y="1521">23</text>
<text x="725" y="1542">24</text><text x="746" y="1542">25</text><text x="789" y="1542">26</text><text x="811" y="1542">27</text><text x="832" y="1542">28</text><text x="854" y="1542">29</text><text x="897" y="1542">30</text><text x="918" y="1542">31</text><text x="940" y="1542">32</text><text x="961" y="1542">33</text><text x="1004" y="1542">34</text><text x="1026" y="1542">35</text>
</g>

<text x="1418" y="1577" text-anchor="end" font-size="18">WI-26850</text>
</svg>
</body></html>
